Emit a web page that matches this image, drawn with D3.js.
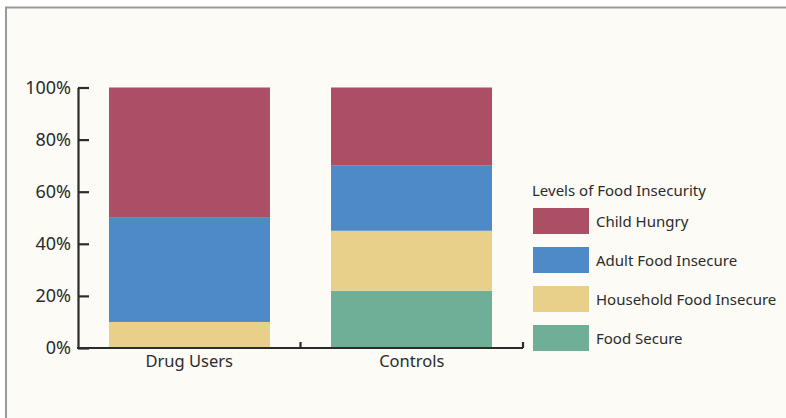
<!DOCTYPE html>
<html>
<head>
<meta charset="utf-8">
<script src="https://cdn.jsdelivr.net/npm/d3@7"></script>
<style>
  html, body { margin: 0; padding: 0; background: #ffffff; }
  svg { display: block; }
  .tick-label { font-family: "Noto Sans", Lato, sans-serif; }
</style>
</head>
<body>
<script>
const categories = ["Drug Users", "Controls"];
const seriesNames = ["Food Secure", "Household Food Insecure", "Adult Food Insecure", "Child Hungry"];
const foodSecure = [0, 22];
const householdFoodInsecure = [10, 23];
const adultFoodInsecure = [40, 25];
const childHungry = [50, 30];
const yTickLabels = ["0%", "20%", "40%", "60%", "80%", "100%"];
const yTickValues = [0, 20, 40, 60, 80, 100];
const legendOrder = ["Child Hungry", "Adult Food Insecure", "Household Food Insecure", "Food Secure"];

const colors = {
  "Child Hungry": "#AC4E64",
  "Adult Food Insecure": "#4E8AC8",
  "Household Food Insecure": "#E8CF8A",
  "Food Secure": "#6FAE97"
};

const FONT = "'Noto Sans', 'Open Sans', sans-serif";
const W = 786, H = 418;
const svg = d3.select("body").append("svg").attr("width", W).attr("height", H);

svg.append("rect").attr("x", 0).attr("y", 0).attr("width", W).attr("height", H).attr("fill", "#ffffff");
svg.append("rect").attr("x", 5).attr("y", 7).attr("width", W).attr("height", H).attr("fill", "#FCFBF6");
svg.append("line").attr("x1", 5).attr("x2", W).attr("y1", 7.5).attr("y2", 7.5).attr("stroke", "#9a9a9a").attr("stroke-width", 2);
svg.append("line").attr("x1", 6).attr("x2", 6).attr("y1", 7).attr("y2", H).attr("stroke", "#9a9a9a").attr("stroke-width", 2);

const table = categories.map((c, i) => ({
  category: c,
  "Food Secure": foodSecure[i],
  "Household Food Insecure": householdFoodInsecure[i],
  "Adult Food Insecure": adultFoodInsecure[i],
  "Child Hungry": childHungry[i]
}));

const x0 = 78, x1 = 523, yTop = 87.5, yBot = 348;
const xOuter = d3.scaleBand().domain(categories).range([x0, x1]).padding(0);
const x = d3.scaleBand().domain(categories).range([x0, x1]).paddingInner(0.2748).paddingOuter(0.1396);
const y = d3.scaleLinear().domain([0, 100]).range([yBot, yTop]);

const stacked = d3.stack().keys(seriesNames)(table);

svg.append("g").selectAll("g").data(stacked).join("g")
  .attr("fill", d => colors[d.key])
  .selectAll("rect").data(d => d).join("rect")
  .attr("x", d => x(d.data.category))
  .attr("width", x.bandwidth())
  .attr("y", d => y(d[1]))
  .attr("height", d => y(d[0]) - y(d[1]));

const yAxis = d3.axisLeft(y).tickValues(yTickValues).tickFormat((d, i) => yTickLabels[i]).tickSizeInner(-11).tickSizeOuter(0).tickPadding(8);
const gy = svg.append("g").attr("transform", `translate(${x0},0)`).call(yAxis);
gy.select(".domain").attr("stroke", "#2b2b2b").attr("stroke-width", 2.2);
gy.selectAll(".tick line").attr("stroke", "#2b2b2b").attr("stroke-width", 2.2);
gy.selectAll(".tick text").attr("class", "tick-label").attr("x", -7).attr("font-size", 18).attr("fill", "#2b2b2b").attr("dy", "0.32em");

svg.append("line").attr("x1", x0 - 1).attr("x2", x1).attr("y1", yBot).attr("y2", yBot).attr("stroke", "#2b2b2b").attr("stroke-width", 2.2);
const boundaries = categories.map(c => xOuter(c) + xOuter.bandwidth());
svg.append("g").selectAll("line").data(boundaries).join("line")
  .attr("x1", d => d).attr("x2", d => d)
  .attr("y1", yBot).attr("y2", yBot - 6)
  .attr("stroke", "#2b2b2b").attr("stroke-width", 2.2);
svg.append("g").selectAll("text").data(categories).join("text")
  .attr("x", d => xOuter(d) + xOuter.bandwidth() / 2)
  .attr("y", 367)
  .attr("text-anchor", "middle")
  .attr("font-family", FONT)
  .attr("font-size", 16.5)
  .attr("fill", "#2b2b2b")
  .text(d => d);

const lg = svg.append("g");
lg.append("text").attr("x", 532).attr("y", 196)
  .attr("font-family", FONT).attr("font-size", 15).attr("fill", "#2b2b2b")
  .text("Levels of Food Insecurity");
const items = lg.selectAll("g.item").data(legendOrder).join("g").attr("class", "item")
  .attr("transform", (d, i) => `translate(533,${208 + i * 39})`);
items.append("rect").attr("width", 56).attr("height", 26).attr("fill", d => colors[d]);
items.append("text").attr("x", 63).attr("y", 18.5)
  .attr("font-family", FONT).attr("font-size", 15).attr("fill", "#2b2b2b")
  .text(d => d);
</script>
</body>
</html>
